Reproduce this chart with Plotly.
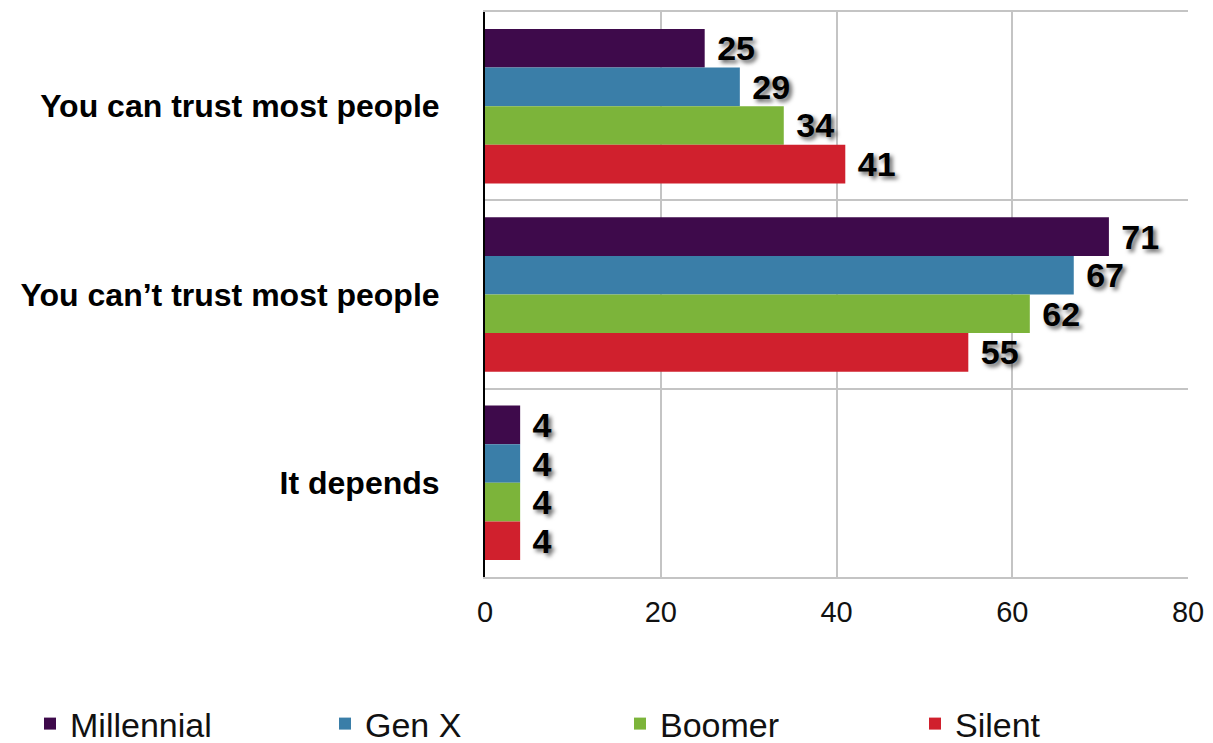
import plotly.graph_objects as go

categories = ["You can trust most people", "You can\u2019t trust most people", "It depends"]
series_names = ["Millennial", "Gen X", "Boomer", "Silent"]
millennial = [25, 71, 4]
gen_x = [29, 67, 4]
boomer = [34, 62, 4]
silent = [41, 55, 4]
x_ticks = [0, 20, 40, 60, 80]

colors = ["#3e0a4b", "#3a7ea8", "#7cb43a", "#d0202d"]
values = [millennial, gen_x, boomer, silent]

FONT = "Liberation Sans, Arial, Helvetica, sans-serif"

fig = go.Figure()
for name, vals, col in zip(series_names, values, colors):
    fig.add_trace(go.Bar(
        y=categories, x=vals, name=name, orientation="h",
        marker=dict(color=col, line=dict(width=0)),
        texttemplate="\u00a0%{x}", textposition="outside",
        textfont=dict(family=FONT, size=34, color="#000000",
                      weight="bold", shadow="3px 3px 4px rgba(0,0,0,0.6)"),
        cliponaxis=False,
    ))

W, H = 1213, 743
L, R, T, B = 485, 25, 12, 166
pw, ph = W - L - R, H - T - B

fig.update_layout(
    width=W, height=H,
    margin=dict(l=L, r=R, t=T, b=B, autoexpand=False),
    paper_bgcolor="white", plot_bgcolor="white",
    barmode="group", bargap=0.18, bargroupgap=0,
    font=dict(family=FONT, color="#111111"),
    showlegend=True,
    legend=dict(orientation="h",
                x=(30 - L) / pw, xanchor="left",
                y=-(724 - (H - B)) / ph, yanchor="middle",
                entrywidth=250, entrywidthmode="pixels",
                font=dict(size=34, family=FONT, color="#111111"),
                traceorder="normal", itemclick=False),
)
fig.update_xaxes(
    range=[0, 80], tickvals=x_ticks, ticktext=[str(t) for t in x_ticks],
    showgrid=True, gridcolor="#c4c4c4", gridwidth=2,
    showline=True, linecolor="#c4c4c4", linewidth=2, mirror=True,
    zeroline=False, ticks="", ticklabelstandoff=8,
    tickfont=dict(size=29, family=FONT, color="#111111"),
)
fig.update_yaxes(
    autorange="reversed", type="category", tickson="boundaries",
    showgrid=True, gridcolor="#c4c4c4", gridwidth=2,
    showline=True, linecolor="#000000", linewidth=2,
    ticks="", ticklabelstandoff=37,
    tickfont=dict(size=32, family=FONT, color="#000000", weight="bold"),
)

fig.write_html("out.html")
